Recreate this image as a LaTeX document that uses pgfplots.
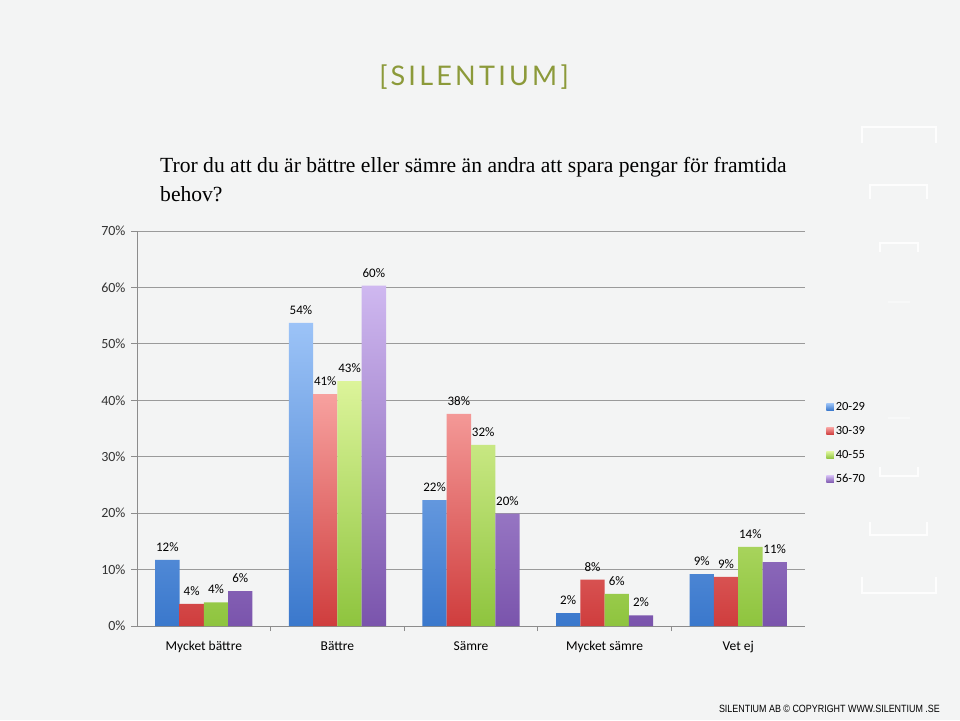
\documentclass[border=0pt]{standalone}
\usepackage{pgfplots}
\pgfplotsset{compat=1.18}
\usepackage{graphicx}
\usepackage{fontspec}
\setmainfont{Carlito}
\newfontfamily\qfont{Liberation Serif}
\newfontfamily\logofont[LetterSpace=12]{Lato}
\newfontfamily\arialf{Liberation Sans}
\definecolor{bg}{HTML}{F3F4F4}
\definecolor{logogreen}{HTML}{8C9A3A}
\definecolor{axgray}{HTML}{8C8C8C}
\definecolor{gridgray}{HTML}{9A9A9A}
\definecolor{btop}{HTML}{9CC3F7}
\definecolor{bbot}{HTML}{3A78CC}
\definecolor{rtop}{HTML}{F7A19F}
\definecolor{rbot}{HTML}{CF3D3D}
\definecolor{gtop}{HTML}{DCF49A}
\definecolor{gbot}{HTML}{8EC43E}
\definecolor{ptop}{HTML}{CFB8F0}
\definecolor{pbot}{HTML}{7A54AC}

\pgfplotstableread{
x  a    b    c    d
0  11.7 3.9  4.2  6.2
1  53.7 41.1 43.4 60.3
2  22.3 37.6 32.1 19.9
3  2.3  8.2  5.7  1.9
4  9.2  8.7  14.0 11.3
}\datatable

\begin{document}
\begin{tikzpicture}
\fill[bg] (0pt,0pt) rectangle (960pt,720pt);
\useasboundingbox (0pt,0pt) rectangle (960pt,720pt);
% decorative white brackets
\begin{scope}[x=1pt, y=1pt, white, line width=2.5pt, opacity=0.9]
\draw (862,577) -- (862,593) -- (936,593) -- (936,577);
\draw (870,521) -- (870,535) -- (927,535) -- (927,521);
\draw (880,468) -- (880,477) -- (918,477) -- (918,468);
\draw[opacity=0.4] (888,418) -- (910,418);
\draw[opacity=0.4] (888,302) -- (910,302);
\draw (880,253) -- (880,244) -- (918,244) -- (918,253);
\draw (870,198) -- (870,185) -- (927,185) -- (927,198);
\draw (862,143) -- (862,127) -- (936,127) -- (936,143);
\end{scope}
% logo
\node[anchor=base, text=logogreen, font=\logofont\fontsize{27}{30}\selectfont, inner sep=0] at (474pt,634pt) {[SILENTIUM]};
% question
\node[anchor=base west, inner sep=0, font=\qfont\fontsize{21.6}{25}\selectfont] at (160pt,547pt) {Tror du att du är bättre eller sämre än andra att spara pengar för framtida};
\node[anchor=base west, inner sep=0, font=\qfont\fontsize{21.6}{25}\selectfont] at (160pt,518pt) {behov?};
% copyright
\node[anchor=base east, inner sep=0, font=\arialf\fontsize{10.5}{12}\selectfont] at (940pt,8pt) {\scalebox{0.85}[1]{SILENTIUM AB © COPYRIGHT WWW.SILENTIUM .SE}};

\begin{axis}[
  at={(137pt,94pt)}, anchor=south west,
  width=668pt, height=395pt, scale only axis,
  xmin=-0.5, xmax=4.5, ymin=0, ymax=70,
  ybar=0pt, bar width=24.3pt,
  axis x line=bottom, axis y line=left,
  axis line style={draw=axgray, line width=0.8pt, -},
  xtick={0,1,2,3,4},
  xticklabels={Mycket bättre, Bättre, Sämre, Mycket sämre, Vet ej},
  major x tick style={draw=none},
  minor xtick={0.5,1.5,2.5,3.5},
  minor x tick style={draw=axgray, line width=0.8pt},
  minor tick length=5pt,
  ytick={0,10,...,70},
  yticklabel={\pgfmathprintnumber{\tick}\%},
  major tick length=6pt,
  tick align=outside,
  y tick style={draw=axgray, line width=0.8pt},
  ymajorgrids, grid style={draw=gridgray, line width=0.8pt},
  /pgf/number format/assume math mode=true,
  xticklabel style={font=\fontsize{13.5}{15}\selectfont, yshift=-6pt},
  yticklabel style={font=\fontsize{14}{16}\selectfont, text=black!80, xshift=-2pt},
  nodes near coords={\pgfmathprintnumber[fixed,precision=0]{\pgfplotspointmeta}\%},
  every node near coord/.append style={font=\fontsize{13}{15}\selectfont, text=black, yshift=5pt},
  legend cell align=left,
  legend style={at={(axis description cs:1.03,0.575)}, anchor=north west, draw=none, fill=none,
    font=\fontsize{12.5}{14}\selectfont, row sep=10.5pt, inner sep=1pt},
  legend image code/.code={\path[#1] (0pt,-3.5pt) rectangle (7.5pt,3.5pt);},
  clip=false,
]
\addplot[draw=none, top color=btop, bottom color=bbot] table[x=x,y=a] {\datatable};
\addplot[draw=none, top color=rtop, bottom color=rbot] table[x=x,y=b] {\datatable};
\addplot[draw=none, top color=gtop, bottom color=gbot] table[x=x,y=c] {\datatable};
\addplot[draw=none, top color=ptop, bottom color=pbot] table[x=x,y=d] {\datatable};
\legend{20-29, 30-39, 40-55, 56-70}
\end{axis}
\end{tikzpicture}
\end{document}
